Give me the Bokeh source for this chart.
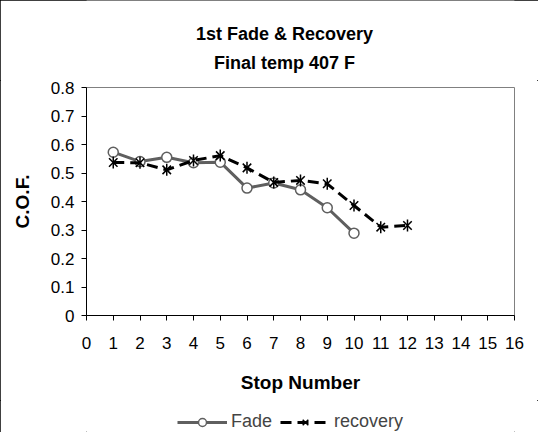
from bokeh.plotting import figure
from bokeh.layouts import column
from bokeh.models import FixedTicker, Legend, LegendItem, Range1d, Label
from bokeh.embed import file_html
from bokeh.resources import INLINE

# ---- data ----
fade_x = [1, 2, 3, 4, 5, 6, 7, 8, 9, 10]
fade_y = [0.573, 0.54, 0.555, 0.536, 0.538, 0.447, 0.465, 0.441, 0.378, 0.289]
rec_x = [1, 2, 3, 4, 5, 6, 7, 8, 9, 10, 11, 12]
rec_y = [0.537, 0.536, 0.511, 0.544, 0.561, 0.518, 0.467, 0.474, 0.462, 0.386, 0.31, 0.316]
x_ticks = list(range(0, 17))
y_ticks = [0, 0.1, 0.2, 0.3, 0.4, 0.5, 0.6, 0.7, 0.8]
y_tick_labels = ["0", "0.1", "0.2", "0.3", "0.4", "0.5", "0.6", "0.7", "0.8"]
title_lines = ["1st Fade & Recovery", "Final temp 407 F"]
x_label = "Stop Number"
y_label = "C.O.F."
series_names = ["Fade", "recovery"]

FONT = "Liberation Sans"
W = 538
LEFT, RIGHT = 86, 24
TITLE_H, MAIN_H, LEG_H = 80, 320, 32

FADE_COLOR = "#5f5f5f"
REC_COLOR = "black"


def strip_fig(h):
    # decoration strip whose frame lines up with the chart frame (1 data unit = 1 px)
    f = figure(width=W, height=h, output_backend="svg", toolbar_location=None,
               x_range=Range1d(LEFT, W - RIGHT), y_range=Range1d(0, h),
               min_border_left=LEFT, min_border_right=RIGHT, min_border_top=0, min_border_bottom=0)
    f.axis.visible = False
    f.grid.visible = False
    f.outline_line_color = None
    f.background_fill_color = "white"
    f.border_fill_color = "white"
    return f


# ---- title strip ----
pt = strip_fig(TITLE_H)
for txt, ypos in zip(title_lines, [TITLE_H - 33, TITLE_H - 62]):
    pt.add_layout(Label(x=284, y=ypos, text=txt, text_align="center", text_baseline="middle",
                        text_font=FONT, text_font_size="18px", text_font_style="bold",
                        text_color="black"))

# ---- main chart ----
p = figure(width=W, height=MAIN_H, output_backend="svg", toolbar_location=None,
           x_range=Range1d(0, 16), y_range=Range1d(0, 0.8),
           min_border_left=LEFT, min_border_right=RIGHT, min_border_top=7, min_border_bottom=85)
p.background_fill_color = "white"
p.border_fill_color = "white"
p.outline_line_color = "#808080"
p.outline_line_width = 1
p.xgrid.visible = False
p.ygrid.visible = False

for ax in (p.xaxis[0], p.yaxis[0]):
    ax.axis_line_color = "black"
    ax.major_tick_line_color = "black"
    ax.major_tick_in = 0
    ax.major_tick_out = 5
    ax.minor_tick_line_color = None
    ax.major_label_text_font = FONT
    ax.major_label_text_font_size = "17px"
    ax.major_label_text_color = "black"
    ax.axis_label_text_font = FONT
    ax.axis_label_text_font_size = "19px"
    ax.axis_label_text_font_style = "bold"
    ax.axis_label_text_color = "black"

p.xaxis.ticker = FixedTicker(ticks=x_ticks)
p.yaxis.ticker = FixedTicker(ticks=y_ticks)
p.yaxis.major_label_overrides = {t: l for t, l in zip(y_ticks, y_tick_labels)}
p.xaxis.axis_label = x_label
p.yaxis.axis_label = y_label
p.xaxis.major_label_standoff = 16
p.yaxis.major_label_standoff = 7
p.xaxis.axis_label_standoff = 20
p.yaxis.axis_label_standoff = 15

p.line(fade_x, fade_y, line_color=FADE_COLOR, line_width=3)
p.scatter(fade_x, fade_y, marker="circle", size=10, fill_color="white",
          line_color=FADE_COLOR, line_width=1.5)
p.line(rec_x, rec_y, line_color=REC_COLOR, line_width=3, line_dash="11 6")
p.scatter(rec_x, rec_y, marker="x", size=12, line_color=REC_COLOR, line_width=1.5)
p.scatter(rec_x, rec_y, marker="dash", angle=1.5708, size=12, line_color=REC_COLOR, line_width=1.5)

# ---- legend strip (hidden copies of the series, shown only as legend entries) ----
pl = strip_fig(LEG_H)
lf = pl.line(fade_x, fade_y, line_color=FADE_COLOR, line_width=3, visible=False)
lfm = pl.scatter(fade_x, fade_y, marker="circle", size=10, fill_color="white",
                 line_color=FADE_COLOR, line_width=1.5, visible=False)
lr = pl.line(rec_x, rec_y, line_color=REC_COLOR, line_width=3, line_dash="11 6", visible=False)
lrm = pl.scatter(rec_x, rec_y, marker="x", size=12, line_color=REC_COLOR, line_width=1.5, visible=False)
legend = Legend(items=[LegendItem(label=series_names[0], renderers=[lf, lfm]),
                       LegendItem(label=series_names[1], renderers=[lr, lrm])],
                orientation="horizontal", location=(177 - LEFT, 0),
                label_text_font=FONT, label_text_font_size="18px",
                glyph_width=50, glyph_height=20, label_standoff=4, spacing=8, padding=0, margin=0,
                border_line_color=None, background_fill_alpha=0, inactive_fill_alpha=0)
pl.add_layout(legend, "center")

layout = column(pt, p, pl, spacing=0,
                styles={"outline": "1px solid black", "outline-offset": "-1px",
                        "background-color": "white"})

open("out.html", "w").write(file_html(layout, INLINE))
